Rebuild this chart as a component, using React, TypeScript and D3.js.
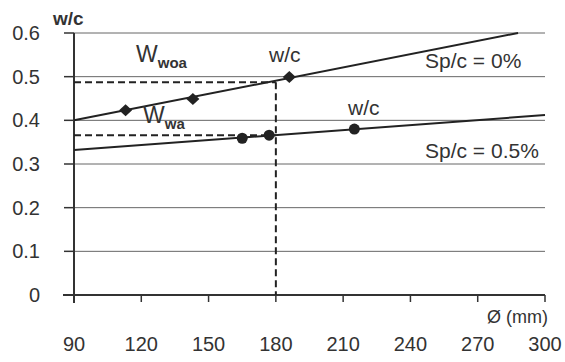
import React from 'react';
import * as d3 from 'd3';

const xTicks = [90, 120, 150, 180, 210, 240, 270, 300];
const yTicks = [0, 0.1, 0.2, 0.3, 0.4, 0.5, 0.6];

// Sp/c = 0% (w/c without admixture)
const woaX = [113, 143, 186];
const woaY = [0.423, 0.449, 0.499];
const woaLineX = [90, 288];
const woaLineY = [0.4, 0.6];

// Sp/c = 0.5%
const waX = [165, 177, 215];
const waY = [0.359, 0.366, 0.38];
const waLineX = [90, 300];
const waLineY = [0.332, 0.412];

// reading at 180 mm
const readX = 180;
const readY = [0.487, 0.366];

const margin = { top: 33, right: 20, bottom: 67, left: 74 };
const W = 565;
const H = 362;

const App = () => {
  const x = d3.scaleLinear().domain([90, 300]).range([margin.left, W - margin.right]);
  const y = d3.scaleLinear().domain([0, 0.6]).range([H - margin.bottom, margin.top]);
  const line = d3
    .line<[number, number]>()
    .x((d) => x(d[0]))
    .y((d) => y(d[1]));
  const diamond = 'M0,-6L6.5,0L0,6L-6.5,0Z';
  const font = '"Liberation Sans", Arial, sans-serif';
  const ink = '#333';

  return (
    <svg width={W} height={H} style={{ position: 'absolute', left: 0, top: 0, background: '#fff' }} fontFamily={font}>
      {/* grid */}
      {yTicks.filter((t) => t > 0).map((t) => (
        <line key={t} x1={x(90)} x2={x(300)} y1={y(t)} y2={y(t)} stroke="#666" strokeWidth={1} />
      ))}
      {/* axes */}
      <line x1={x(90)} x2={x(90)} y1={y(0.6)} y2={y(0) + 8} stroke="#333" strokeWidth={2} />
      <line x1={x(90) - 11} x2={x(300)} y1={y(0)} y2={y(0)} stroke="#333" strokeWidth={2} />
      {yTicks.map((t) => (
        <g key={t}>
          <line x1={x(90) - 10} x2={x(90)} y1={y(t)} y2={y(t)} stroke="#333" strokeWidth={1.5} />
          <text x={40} y={y(t) + 7} textAnchor="end" fontSize={20} fill={ink}>
            {t === 0 ? '0' : t.toFixed(1)}
          </text>
        </g>
      ))}
      {xTicks.map((t) => (
        <g key={t}>
          <line x1={x(t)} x2={x(t)} y1={y(0)} y2={y(0) + 7} stroke="#333" strokeWidth={1.5} />
          <text x={x(t)} y={351} textAnchor="middle" fontSize={20} fill={ink}>
            {t}
          </text>
        </g>
      ))}
      <text x={548} y={323} textAnchor="end" fontSize={18} fill={ink}>
        Ø (mm)
      </text>
      <text x={53} y={25} fontSize={19} fontWeight="bold" fill={ink}>
        w/c
      </text>

      {/* reading lines */}
      {readY.map((v) => (
        <line key={v} x1={x(90)} x2={x(readX)} y1={y(v)} y2={y(v)} stroke="#222" strokeWidth={2} strokeDasharray="7 4" />
      ))}
      <line x1={x(readX)} x2={x(readX)} y1={y(readY[0])} y2={y(0)} stroke="#222" strokeWidth={2} strokeDasharray="7 4" />

      {/* trend lines */}
      <path d={line(woaLineX.map((v, i) => [v, woaLineY[i]]) as [number, number][]) ?? ''} fill="none" stroke="#222" strokeWidth={2} />
      <path d={line(waLineX.map((v, i) => [v, waLineY[i]]) as [number, number][]) ?? ''} fill="none" stroke="#222" strokeWidth={2} />

      {woaX.map((v, i) => (
        <path key={v} d={diamond} transform={`translate(${x(v)},${y(woaY[i])})`} fill="#222" />
      ))}
      {waX.map((v, i) => (
        <circle key={v} cx={x(v)} cy={y(waY[i])} r={5.5} fill="#222" />
      ))}

      {/* annotations */}
      <text x={136} y={62} fontSize={23} fill={ink}>
        W<tspan fontSize={15} fontWeight="bold" dy={6}>woa</tspan>
      </text>
      <text x={143} y={123} fontSize={23} fill={ink}>
        W<tspan fontSize={15} fontWeight="bold" dy={6}>wa</tspan>
      </text>
      <text x={269} y={62} fontSize={21} fill={ink}>
        w/c
      </text>
      <text x={348} y={115} fontSize={21} fill={ink}>
        w/c
      </text>
      <text x={425} y={68} fontSize={21} fill={ink}>
        Sp/c = 0%
      </text>
      <text x={425} y={158} fontSize={21} fill={ink}>
        Sp/c = 0.5%
      </text>
    </svg>
  );
};

export default App;
